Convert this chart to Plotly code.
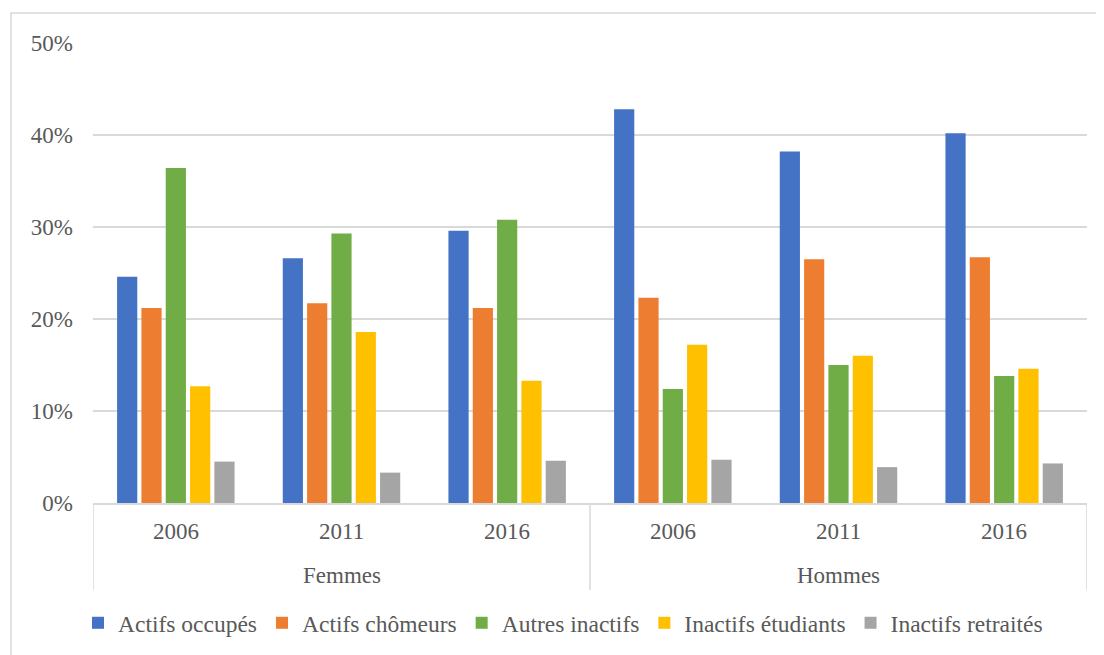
import plotly.graph_objects as go

groups = ["Femmes", "Femmes", "Femmes", "Hommes", "Hommes", "Hommes"]
years = ["2006", "2011", "2016", "2006", "2011", "2016"]

series_names = ["Actifs occupés", "Actifs chômeurs", "Autres inactifs",
                "Inactifs étudiants", "Inactifs retraités"]
actifs_occupes = [0.246, 0.266, 0.296, 0.428, 0.382, 0.402]
actifs_chomeurs = [0.212, 0.217, 0.212, 0.223, 0.265, 0.267]
autres_inactifs = [0.364, 0.293, 0.308, 0.124, 0.150, 0.138]
inactifs_etudiants = [0.127, 0.186, 0.133, 0.172, 0.160, 0.146]
inactifs_retraites = [0.045, 0.033, 0.046, 0.047, 0.039, 0.043]

colors = ["#4472C4", "#ED7D31", "#70AD47", "#FFC000", "#A5A5A5"]
values = [actifs_occupes, actifs_chomeurs, autres_inactifs,
          inactifs_etudiants, inactifs_retraites]

categories = [f"{g} {y}" for g, y in zip(groups, years)]

W, H = 1104, 655
L, R, T, B = 85, 25, 35, 160
pw, ph = W - L - R, H - T - B

font_family = "Liberation Serif, Times New Roman, serif"
txt = "#595959"
grid = "#D9D9D9"

fig = go.Figure()
for name, vals, c in zip(series_names, values, colors):
    fig.add_trace(go.Bar(
        x=categories, y=vals, name=name,
        marker=dict(color=c, line=dict(width=0)),
    ))

annotations = []
for cat, yr in zip(categories, years):
    annotations.append(dict(x=cat, xref="x", y=0, yref="paper", yshift=-28,
                            text=yr, showarrow=False, yanchor="middle",
                            font=dict(size=23, color=txt, family=font_family)))

group_names = list(dict.fromkeys(groups))
shapes = [dict(type="rect", xref="paper", yref="paper",
               x0=(3 - L) / pw, x1=1.2, y0=-0.5, y1=1 + (T - 5) / ph,
               line=dict(color=grid, width=1.5), fillcolor="rgba(0,0,0,0)",
               layer="below")]
boundaries = [-0.5]
for gname in group_names:
    idx = [i for i, g in enumerate(groups) if g == gname]
    annotations.append(dict(x=sum(idx) / len(idx), xref="x", y=0, yref="paper",
                            yshift=-72, text=gname, showarrow=False,
                            yanchor="middle",
                            font=dict(size=23, color=txt, family=font_family)))
    boundaries.append(idx[-1] + 0.5)
for b in boundaries:
    shapes.append(dict(type="line", xref="x", yref="paper", x0=b, x1=b,
                       y0=0, y1=-87 / ph, line=dict(color=grid, width=1.5)))

fig.update_layout(
    width=W, height=H,
    margin=dict(l=L, r=R, t=T, b=B),
    paper_bgcolor="white", plot_bgcolor="white",
    barmode="group", bargap=0.266, bargroupgap=0.17,
    font=dict(family=font_family, size=23, color=txt),
    showlegend=True,
    legend=dict(orientation="h", x=-0.0151, xanchor="left",
                y=(495 - 615) / ph, yanchor="middle",
                font=dict(size=23.5, color=txt, family=font_family),
                itemclick=False, itemwidth=30),
    shapes=shapes,
    annotations=annotations,
)

fig.update_xaxes(
    type="category", range=[-0.5, len(categories) - 0.5],
    showline=True, linecolor=grid, linewidth=1.5,
    showgrid=False, ticks="", showticklabels=False,
)
fig.update_yaxes(
    range=[0, 0.5], dtick=0.1, tickformat=".0%",
    showgrid=True, gridcolor=grid, gridwidth=1.5,
    zeroline=False, showline=False, ticks="",
    ticklabelstandoff=19,
    tickfont=dict(size=23, color=txt, family=font_family),
)

fig.write_html("out.html")
